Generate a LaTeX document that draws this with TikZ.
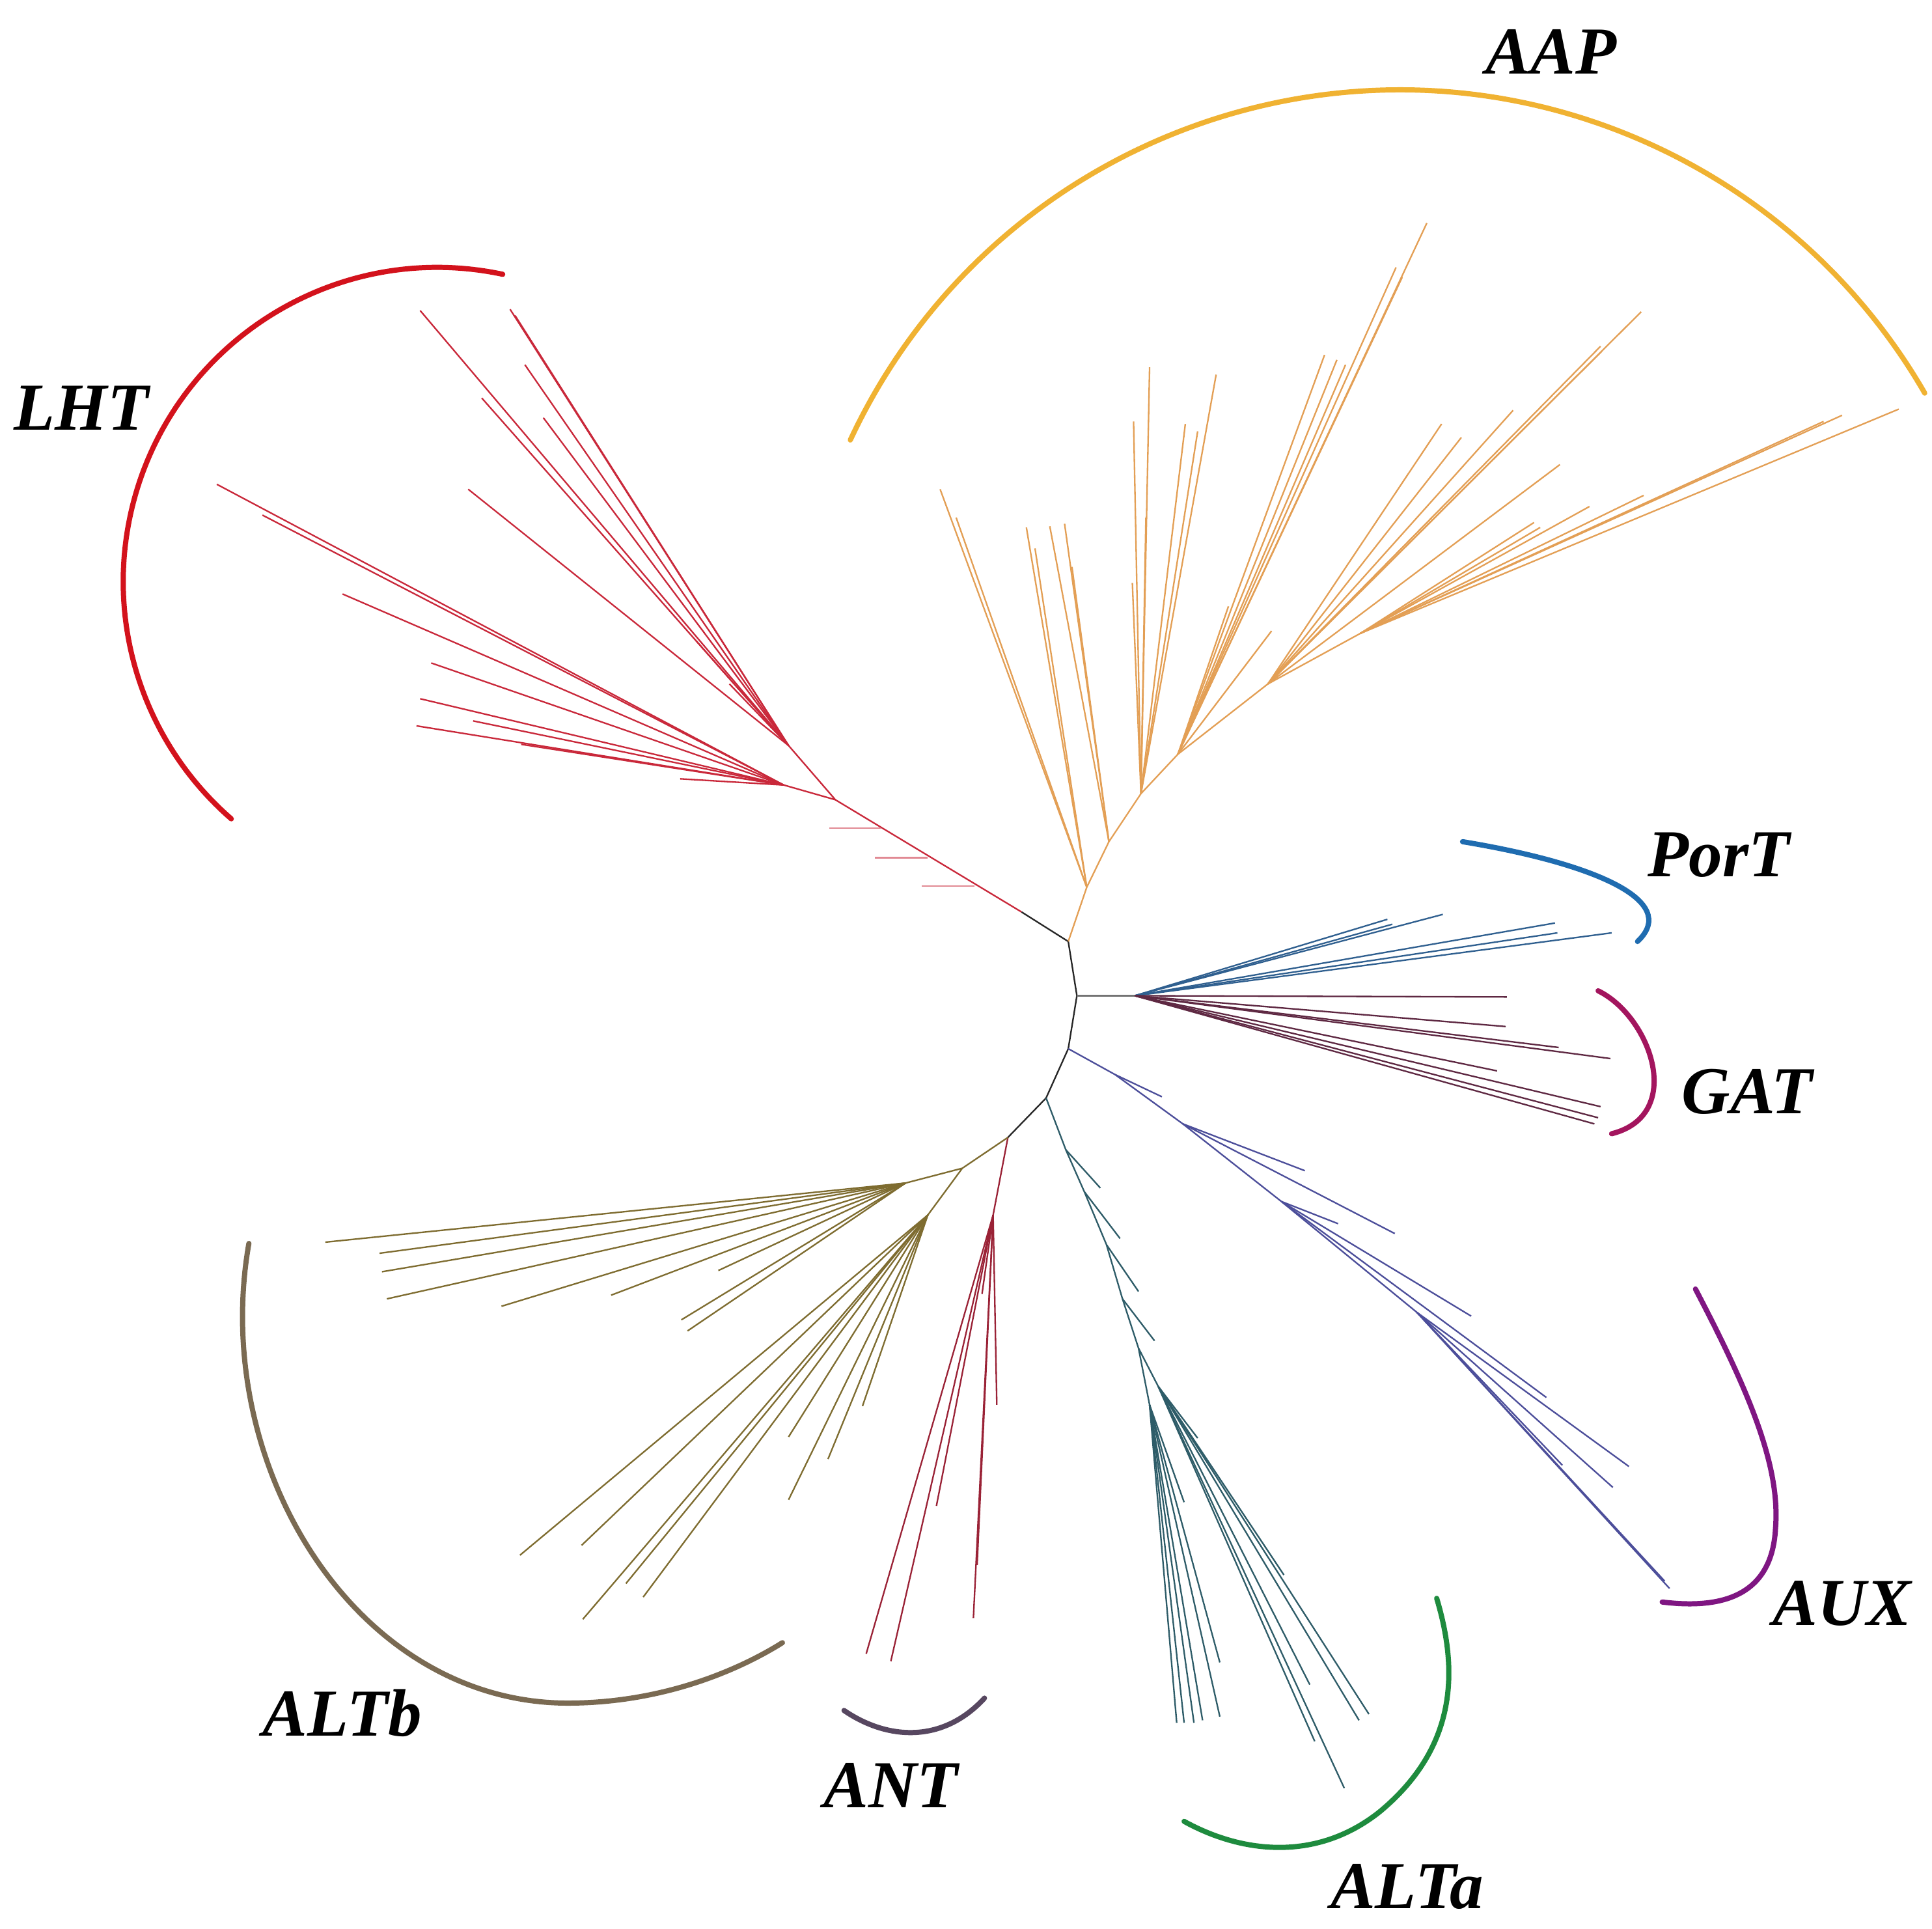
\documentclass[tikz,border=0pt]{standalone}
\usepackage{fontspec}
\setmainfont{Liberation Serif}
\definecolor{aapArc}{HTML}{F0B232}
\definecolor{aapLine}{HTML}{E39F55}
\definecolor{lhtArc}{HTML}{D3121C}
\definecolor{lhtLine}{HTML}{C9283A}
\definecolor{portArc}{HTML}{1F6CB0}
\definecolor{portLine}{HTML}{2F5F8F}
\definecolor{gatArc}{HTML}{A3155E}
\definecolor{gatLine}{HTML}{5E2842}
\definecolor{auxArc}{HTML}{7F1682}
\definecolor{auxLine}{HTML}{4C4E9A}
\definecolor{altaArc}{HTML}{1E8B3E}
\definecolor{altaLine}{HTML}{2E5C68}
\definecolor{antArc}{HTML}{574760}
\definecolor{antLine}{HTML}{9A2236}
\definecolor{altbArc}{HTML}{7A6A52}
\definecolor{altbLine}{HTML}{7E6C30}
\begin{document}
\begin{tikzpicture}[x=0.1mm, y=-0.1mm,
		branch/.style={line width=0.35pt},
		clade/.style={line width=1.2pt, line cap=round},
		lbl/.style={font=\fontsize{15.5}{18}\selectfont\bfseries\itshape}]
	\useasboundingbox (0,0) rectangle (1568,1565);
	
	% Ствол дерева
	\coordinate (J1) at (867,764);
	\coordinate (J2) at (874,808);
	\coordinate (J3) at (867,851);
	\coordinate (J4) at (849,891);
	\coordinate (J5) at (818,923);
	\draw[branch, black!85] (J1) -- (J2) -- (J3) -- (J4) -- (J5);
	
	% LHT
	\coordinate (LB) at (829,740);
	\coordinate (L1) at (678,649);
	\coordinate (L2) at (640,605);
	\coordinate (L3) at (636,637);
	\draw[branch, black!85] (J1) -- (LB);
	\draw[branch, lhtLine] (LB) -- (L1) -- (L2) (L1) -- (L3);
	\foreach \xs/\xe/\y in {715/673/672, 753/710/696, 791/748/719}
		\draw[branch, lhtLine!55] (\xs,\y) -- (\xe,\y);
	\foreach \x/\y in {341/252, 414/251, 418/256, 426/296, 391/323, 441/339, 380/397, 565/520, 592/555}
		\draw[branch, lhtLine] (L2) -- (\x,\y);
	\foreach \x/\y in {176/393, 213/418, 278/482, 350/538, 341/567, 384/585, 338/589, 423/604, 552/632}
		\draw[branch, lhtLine] (L3) -- (\x,\y);
	
	% AAP
	\coordinate (A1) at (882,720);
	\coordinate (A2) at (900,683);
	\coordinate (A3) at (926,644);
	\coordinate (A4) at (956,612);
	\coordinate (A5) at (1029,555);
	\coordinate (A6) at (1104,514);
	\draw[branch, aapLine] (J1) -- (A1) -- (A2) -- (A3) -- (A4) -- (A5) -- (A6);
	\foreach \x/\y in {763/397, 776/420, 833/428, 840/445}
		\draw[branch, aapLine] (A1) -- (\x,\y);
	\foreach \x/\y in {852/427, 864/425, 870/460}
		\draw[branch, aapLine] (A2) -- (\x,\y);
	\foreach \x/\y in {933/298, 920/342, 919/473, 962/344, 987/304, 972/350, 930/420}
		\draw[branch, aapLine] (A3) -- (\x,\y);
	\foreach \x/\y in {1075/288, 1085/292, 1092/296, 1133/217, 1138/225, 1158/181, 997/492, 1032/512}
		\draw[branch, aapLine] (A4) -- (\x,\y);
	\foreach \x/\y in {1228/333, 1170/344, 1186/355, 1266/377, 1332/253, 1299/281, 1300/285}
		\draw[branch, aapLine] (A5) -- (\x,\y);
	\foreach \x/\y in {1541/332, 1495/337, 1480/342, 1334/402, 1290/411, 1245/424, 1250/428}
		\draw[branch, aapLine] (A6) -- (\x,\y);
	
	% PorT и GAT
	\coordinate (PG) at (921,808);
	\draw[branch, black!55] (J2) -- (PG);
	\foreach \x/\y in {1126/746, 1130/750, 1171/742, 1262/749, 1264/757, 1308/757}
		\draw[branch, portLine] (PG) -- (\x,\y);
	\foreach \x/\y in {1223/809, 1222/833, 1265/850, 1307/859, 1215/869, 1299/898, 1297/907, 1294/912}
		\draw[branch, gatLine] (PG) -- (\x,\y);
	
	% AUX
	\coordinate (U1) at (905,872);
	\coordinate (U2) at (960,912);
	\coordinate (U3) at (1040,975);
	\coordinate (U4) at (1150,1065);
	\draw[branch, auxLine] (J3) -- (U1) -- (U2) -- (U3) -- (U4);
	\draw[branch, auxLine] (U1) -- (943,890);
	\foreach \x/\y in {1059/950, 1132/1001}
		\draw[branch, auxLine] (U2) -- (\x,\y);
	\foreach \x/\y in {1086/993, 1194/1068, 1255/1134}
		\draw[branch, auxLine] (U3) -- (\x,\y);
	\foreach \x/\y in {1322/1190, 1309/1207, 1268/1189, 1351/1283, 1355/1289}
		\draw[branch, auxLine] (U4) -- (\x,\y);
	
	% ALTa
	\coordinate (T1) at (865,933);
	\coordinate (T2) at (880,967);
	\coordinate (T3) at (898,1010);
	\coordinate (T4) at (911,1054);
	\coordinate (T5) at (924,1094);
	\coordinate (T6) at (933,1140);
	\coordinate (T7) at (940,1125);
	\draw[branch, altaLine] (J4) -- (T1) -- (T2) -- (T3) -- (T4) -- (T5) -- (T6) (T5) -- (T7);
	\draw[branch, altaLine] (T1) -- (893,964) (T2) -- (909,1005) (T3) -- (924,1048) (T4) -- (937,1088);
	\foreach \x/\y in {955/1398, 961/1398, 969/1398, 976/1396, 990/1393, 990/1349, 961/1219}
		\draw[branch, altaLine] (T6) -- (\x,\y);
	\foreach \x/\y in {1042/1278, 1063/1367, 1067/1413, 1091/1451, 1103/1396, 1111/1391, 972/1167}
		\draw[branch, altaLine] (T7) -- (\x,\y);
	
	% ANT
	\coordinate (N1) at (806,986);
	\draw[branch, antLine] (J5) -- (N1);
	\foreach \x/\y in {797/1050, 809/1140, 790/1313, 793/1270, 760/1222, 703/1342, 723/1348}
		\draw[branch, antLine] (N1) -- (\x,\y);
	
	% ALTb
	\coordinate (B0) at (781,948);
	\coordinate (B1) at (735,960);
	\coordinate (B2) at (753,986);
	\draw[branch, altbLine] (J5) -- (B0) -- (B1) (B0) -- (B2);
	\foreach \x/\y in {264/1008, 308/1017, 310/1032, 314/1054, 407/1060, 496/1051, 583/1031, 553/1071, 558/1080}
		\draw[branch, altbLine] (B1) -- (\x,\y);
	\foreach \x/\y in {422/1262, 472/1254, 473/1314, 508/1285, 522/1296, 640/1217, 640/1166, 672/1184, 700/1141}
		\draw[branch, altbLine] (B2) -- (\x,\y);
	
	% Дуги клад
	\draw[clade, aapArc] (1136,565) ++(-155:492) arc[start angle=-155, end angle=-30, radius=492];
	\draw[clade, lhtArc] (355,472) ++(-78:255) arc[start angle=-78, end angle=-229, radius=255];
	\draw[clade, portArc] (1187,683) .. controls (1290,700) and (1365,730) .. (1329,764);
	\draw[clade, gatArc] (1297,804) .. controls (1340,825) and (1368,905) .. (1308,920);
	\draw[clade, auxArc] (1376,1046) .. controls (1420,1130) and (1445,1190) .. (1441,1240)
		.. controls (1438,1300) and (1390,1305) .. (1349,1300);
	\draw[clade, altaArc] (1166,1297) .. controls (1185,1360) and (1180,1420) .. (1120,1470)
		.. controls (1070,1510) and (1010,1505) .. (961,1478);
	\draw[clade, antArc] (685,1388) .. controls (720,1412) and (765,1415) .. (799,1378);
	\draw[clade, altbArc] (202,1009) .. controls (170,1190) and (290,1385) .. (465,1382)
		.. controls (540,1381) and (600,1355) .. (635,1333);
	
	% Подписи
	\node[lbl] (aap) at (1259,42) {AAP};
	\node[lbl] (lht) at (66,331) {LHT};
	\node[lbl] (port) at (1395,694) {PorT};
	\node[lbl] (gat) at (1418,886) {GAT};
	\node[lbl] (aux) at (1495,1301) {AUX};
	\node[lbl] (alta) at (1142,1531) {ALTa};
	\node[lbl] (ant) at (723,1449) {ANT};
	\node[lbl] (altb) at (278,1390) {ALTb};
\end{tikzpicture}
\end{document}
